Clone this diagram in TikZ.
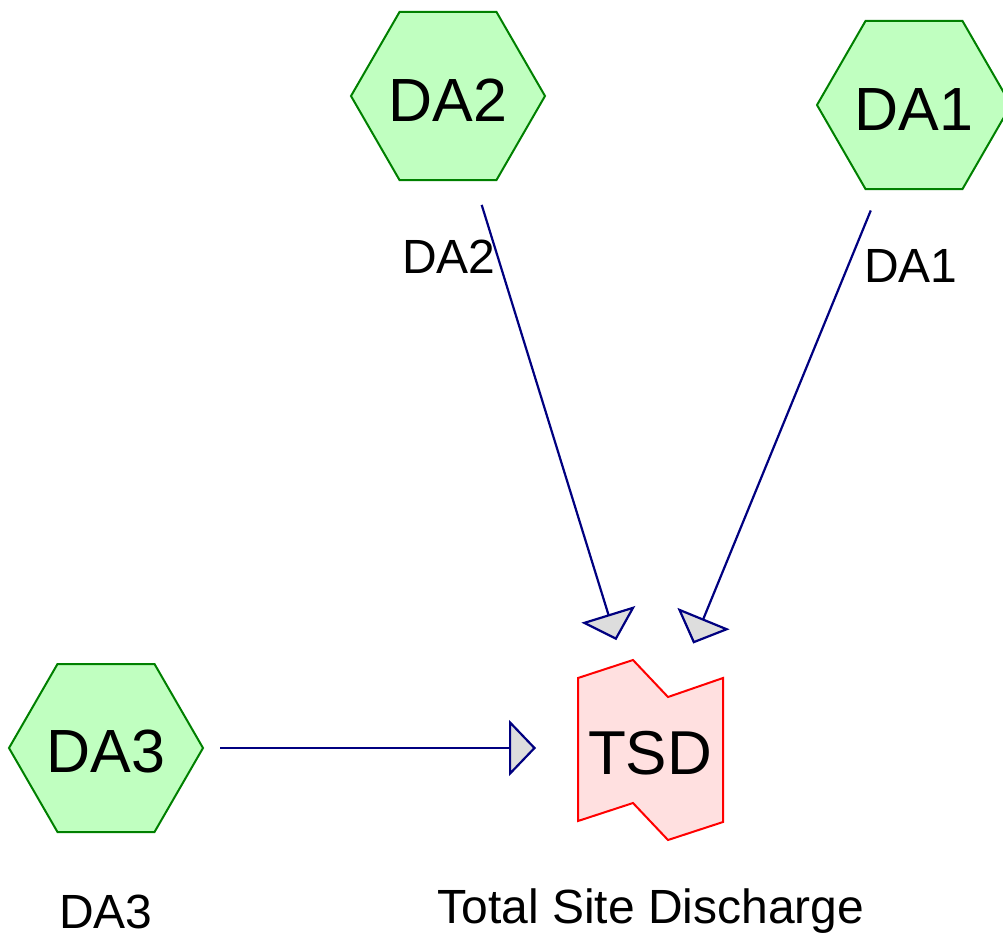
\documentclass[tikz,border=0pt]{standalone}
\usepackage{fontspec}
\setmainfont{Liberation Sans}
\usetikzlibrary{shapes.geometric,arrows.meta}
\definecolor{dagreen}{RGB}{0,128,0}
\definecolor{dafill}{RGB}{192,255,192}
\definecolor{tsdfill}{RGB}{255,224,224}
\definecolor{flownavy}{RGB}{0,0,128}
\definecolor{tipgray}{RGB}{221,221,221}

\begin{document}
\begin{tikzpicture}[x=10pt,y=10pt]
\tikzstyle{every node}+=[inner sep=0pt]
\tikzstyle{hexnode}=[regular polygon,regular polygon sides=6,minimum size=194pt,draw=dagreen,fill=dafill,line width=2pt,text height=50pt,font=\fontsize{61}{61}\selectfont]
\tikzstyle{lbl}=[font=\fontsize{48}{48}\selectfont]
\tikzstyle{flow}=[flownavy,line width=2.2pt,shorten <=114pt,shorten >=114pt,-{Triangle[length=27pt,width=56pt,fill=tipgray]}]
\useasboundingbox (0,0) rectangle (100.3,-94.0);
\draw [red,fill=tsdfill,line width=2pt] (57.8,-67.8) -- (63.3,-66.0) -- (66.8,-69.7) -- (72.3,-67.8) -- (72.3,-82.2) -- (66.8,-84.0) -- (63.3,-80.3) -- (57.8,-82.1) -- cycle;
\draw (65.0,-74.9) node (tsd) [text height=51pt,font=\fontsize{62}{62}\selectfont] {TSD};
\draw (65.1,-91.1) node (tsdlbl) [lbl] {Total Site Discharge};
\draw (44.8,-9.6) node (da2) [hexnode] {DA2};
\draw (44.9,-25.7) node (da2lbl) [lbl] {DA2};
\draw (91.4,-10.5) node (da1) [hexnode] {DA1};
\draw (91.1,-26.6) node (da1lbl) [lbl] {DA1};
\draw (10.6,-74.8) node (da3) [hexnode] {DA3};
\draw (10.6,-91.2) node (da3lbl) [lbl] {DA3};
\draw [flow] (da2.center) -- (tsd.center);
\draw [flow] (da1.center) -- (tsd.center);
\draw [flow] (da3.center) -- (da3.center -| tsd.center);
\end{tikzpicture}
\end{document}
